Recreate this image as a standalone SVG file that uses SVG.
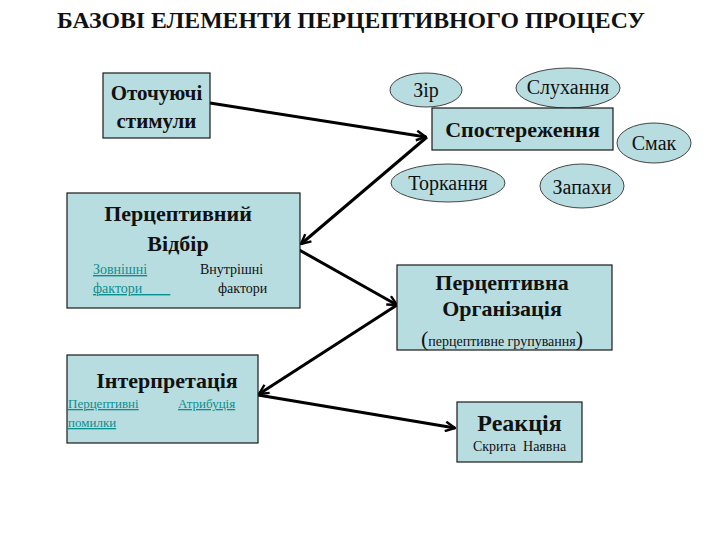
<svg xmlns="http://www.w3.org/2000/svg" width="720" height="540" viewBox="0 0 720 540" font-family="Liberation Serif, serif">
<style>
.box{fill:#b8dde1;stroke:#1a1a1a;stroke-width:1.2}
.ell{fill:#b8dde1;stroke:#444;stroke-width:1}
.b{font-weight:bold;fill:#111}
.r{fill:#111}
.t{fill:#0a8f8f;text-decoration:underline}
.c{stroke:#000;stroke-width:3;fill:none}
</style>
<defs>
<marker id="ah" viewBox="0 0 10 10" refX="9" refY="5" markerWidth="4" markerHeight="4" orient="auto" markerUnits="strokeWidth">
<path d="M1,1 L9,5 L1,9" fill="none" stroke="#000" stroke-width="2"/>
</marker>
</defs>
<rect width="720" height="540" fill="#fff"/>
<text class="b" x="351" y="28" font-size="24" text-anchor="middle" textLength="588" lengthAdjust="spacingAndGlyphs">БАЗОВІ ЕЛЕМЕНТИ ПЕРЦЕПТИВНОГО ПРОЦЕСУ</text>

<g id="connectors">
<line class="c" x1="210" y1="103" x2="426" y2="137" marker-end="url(#ah)"/>
<line class="c" x1="427" y1="137" x2="301" y2="244" marker-end="url(#ah)"/>
<line class="c" x1="294" y1="247" x2="397" y2="305" marker-end="url(#ah)"/>
<line class="c" x1="397" y1="305" x2="259" y2="394" marker-end="url(#ah)"/>
<line class="c" x1="258" y1="395" x2="455" y2="428" marker-end="url(#ah)"/>
</g>

<g id="stimuli">
<rect class="box" x="103" y="73" width="107" height="65"/>
<text class="b" x="156.5" y="100" font-size="21" text-anchor="middle">Оточуючі</text>
<text class="b" x="156.5" y="128" font-size="21" text-anchor="middle">стимули</text>
</g>

<g id="zir">
<ellipse class="ell" cx="426" cy="90" rx="36" ry="17"/>
<text class="r" x="426" y="97" font-size="20" text-anchor="middle">Зір</text>
</g>
<g id="sluhannia">
<ellipse class="ell" cx="568" cy="88" rx="52" ry="20"/>
<text class="r" x="568" y="94" font-size="20" text-anchor="middle">Слухання</text>
</g>
<g id="smak">
<ellipse class="ell" cx="654" cy="143" rx="37" ry="20"/>
<text class="r" x="654" y="150" font-size="20" text-anchor="middle">Смак</text>
</g>
<g id="torkannia">
<ellipse class="ell" cx="448" cy="183" rx="57" ry="19"/>
<text class="r" x="448" y="190" font-size="20" text-anchor="middle">Торкання</text>
</g>
<g id="zapakhy">
<ellipse class="ell" cx="582" cy="186" rx="42" ry="22"/>
<text class="r" x="582" y="194" font-size="20" text-anchor="middle">Запахи</text>
</g>

<g id="sposterezhennia">
<rect class="box" x="432" y="108" width="181" height="42"/>
<text class="b" x="522.5" y="137" font-size="22" text-anchor="middle">Спостереження</text>
</g>

<g id="vidbir">
<rect class="box" x="67" y="193" width="233" height="115"/>
<text class="b" x="178" y="221" font-size="22" text-anchor="middle">Перцептивний</text>
<text class="b" x="178" y="251" font-size="22" text-anchor="middle">Відбір</text>
<text class="t" x="93" y="274" font-size="14">Зовнішні </text>
<text class="t" x="93" y="293" font-size="14" xml:space="preserve">фактори        </text>
<text class="r" x="200" y="274" font-size="14">Внутрішні</text>
<text class="r" x="218" y="293" font-size="14">фактори</text>
</g>

<g id="organizatsiia">
<rect class="box" x="397" y="265" width="215" height="85"/>
<text class="b" x="502" y="290" font-size="22" text-anchor="middle">Перцептивна</text>
<text class="b" x="502" y="316" font-size="22" text-anchor="middle">Організація</text>
<text class="r" x="502" y="346" font-size="14" text-anchor="middle"><tspan font-size="22">(</tspan>перцептивне групування<tspan font-size="22">)</tspan></text>
</g>

<g id="interpretatsiia">
<rect class="box" x="67" y="355" width="191" height="88"/>
<text class="b" x="167" y="388" font-size="22" text-anchor="middle">Інтерпретація</text>
<text class="t" x="68" y="408" font-size="13">Перцептивні </text>
<text class="t" x="178" y="408" font-size="13">Атрибуція</text>
<text class="t" x="68" y="427" font-size="13">помилки</text>
</g>

<g id="reaktsiia">
<rect class="box" x="457" y="402" width="125" height="60"/>
<text class="b" x="519.5" y="431" font-size="24" text-anchor="middle">Реакція</text>
<text class="r" x="519.5" y="451" font-size="14" text-anchor="middle" xml:space="preserve">Скрита  Наявна</text>
</g>
</svg>
